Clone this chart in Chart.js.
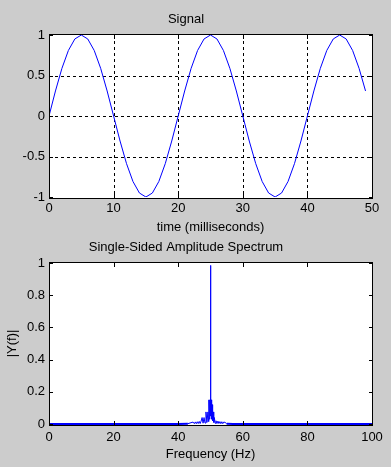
<!DOCTYPE html>
<html><head><meta charset="utf-8">
<script src="https://cdn.jsdelivr.net/npm/chart.js@4.4.0/dist/chart.umd.min.js"></script>
<style>
html,body{margin:0;padding:0;background:#cccccc;width:391px;height:467px;overflow:hidden}
#top{position:absolute;left:0;top:0;width:391px;height:236px}
#bot{position:absolute;left:0;top:236px;width:391px;height:231px}
canvas{display:block}
</style></head><body>
<div id="top"><canvas id="c1" width="391" height="236"></canvas></div>
<div id="bot"><canvas id="c2" width="391" height="231"></canvas></div>
<script>
// ---- Signal (top) ----
const signalTime = [0,1,2,3,4,5,6,7,8,9,10,11,12,13,14,15,16,17,18,19,20,21,22,23,24,25,26,27,28,29,30,31,32,33,34,35,36,37,38,39,40,41,42,43,44,45,46,47,48,49];
const signalValues = [
  0, 0.309, 0.588, 0.809, 0.951, 1, 0.951, 0.809, 0.588, 0.309,
  0, -0.309, -0.588, -0.809, -0.951, -1, -0.951, -0.809, -0.588, -0.309,
  0, 0.309, 0.588, 0.809, 0.951, 1, 0.951, 0.809, 0.588, 0.309,
  0, -0.309, -0.588, -0.809, -0.951, -1, -0.951, -0.809, -0.588, -0.309,
  0, 0.309, 0.588, 0.809, 0.951, 1, 0.951, 0.809, 0.588, 0.309
];
const signalXTicks = [0,10,20,30,40,50];
const signalXTickLabels = ['0','10','20','30','40','50'];
const signalYTicks = [-1,-0.5,0,0.5,1];
const signalYTickLabels = ['-1','-0.5','0','0.5','1'];

// ---- Spectrum (bottom) ----
const spectrumFreq = [0,5,10,15,20,25,30,35,40,43,
  44.6,45,45.3,45.6,45.9,46.2,46.5,46.8,47.1,47.4,47.7,48,48.3,48.6,48.9,49.2,49.4,49.5,49.65,49.8,49.9,
  50,
  50.1,50.2,50.35,50.5,50.65,50.8,51,51.2,51.4,51.7,52,52.3,52.6,52.9,53.2,53.5,53.8,54.1,54.5,55,
  57,60,65,70,75,80,85,90,95,100];
const spectrumAmp = [0,0,0,0,0,0,0,0,0,0.002,
  0.012,0.002,0.013,0.002,0.014,0.003,0.016,0.003,0.018,0.04,0.005,0.04,0.006,0.075,0.01,0.075,0.015,0.15,0.03,0.15,0.05,
  0.985,
  0.05,0.15,0.03,0.12,0.02,0.075,0.01,0.04,0.005,0.02,0.003,0.018,0.003,0.015,0.002,0.014,0.002,0.012,0.01,0.002,
  0,0,0,0,0,0,0,0,0,0];
const spectrumXTicks = [0,20,40,60,80,100];
const spectrumXTickLabels = ['0','20','40','60','80','100'];
const spectrumYTicks = [0,0.2,0.4,0.6,0.8,1];
const spectrumYTickLabels = ['0','0.2','0.4','0.6','0.8','1'];

const FONT = {family:"'Liberation Sans', Arial, sans-serif", size:13, weight:'normal'};

const matlabAxes = {
  id:'matlabAxes',
  beforeDraw(chart){
    const {ctx, chartArea:a} = chart;
    ctx.save();
    ctx.fillStyle = '#ffffff';
    ctx.fillRect(a.left, a.top, a.right - a.left, a.bottom - a.top + 1);
    ctx.restore();
  },
  beforeDatasetsDraw(chart, args, opts){
    if (!opts.grid) return;
    const {ctx, chartArea:a, scales} = chart;
    ctx.save();
    ctx.strokeStyle = '#000';
    ctx.lineWidth = 1;
    ctx.setLineDash([3,3]);
    scales.x.ticks.forEach(t => {
      if (t.value <= scales.x.min || t.value >= scales.x.max) return;
      const x = Math.round(scales.x.getPixelForValue(t.value)) + 0.5;
      ctx.beginPath(); ctx.moveTo(x, a.top); ctx.lineTo(x, a.bottom); ctx.stroke();
    });
    scales.y.ticks.forEach(t => {
      if (t.value <= scales.y.min || t.value >= scales.y.max) return;
      const y = Math.round(scales.y.getPixelForValue(t.value)) + 0.5;
      ctx.beginPath(); ctx.moveTo(a.left, y); ctx.lineTo(a.right, y); ctx.stroke();
    });
    ctx.restore();
  },
  afterDatasetsDraw(chart){
    const {ctx, chartArea:a, scales} = chart;
    const L = Math.round(a.left), R = Math.round(a.right), T = Math.round(a.top), B = Math.round(a.bottom);
    ctx.save();
    ctx.fillStyle = '#000';
    ctx.fillRect(L, T - 1, R - L + 1, 1);
    ctx.fillRect(L, B + 1, R - L + 1, 1);
    ctx.fillRect(L, T - 1, 1, B - T + 3);
    ctx.fillRect(R, T - 1, 1, B - T + 3);
    const len = 4;
    scales.x.ticks.forEach(t => {
      const x = Math.round(scales.x.getPixelForValue(t.value));
      ctx.fillRect(x, B + 1 - len, 1, len);
      ctx.fillRect(x, T, 1, len);
    });
    scales.y.ticks.forEach(t => {
      const y = Math.round(scales.y.getPixelForValue(t.value));
      ctx.fillRect(L, y, len, 1);
      ctx.fillRect(R - len + 1, y, len, 1);
    });
    ctx.restore();
  }
};

function xScale(min, max, ticks, labels, title, tickPad, titlePadB, height){
  return {
    type:'linear', min, max,
    afterBuildTicks: s => { s.ticks = ticks.map(v => ({value:v})); },
    afterFit: s => { s.height = height; },
    grid:{display:false, drawTicks:false}, border:{display:false},
    ticks:{color:'#000', font:FONT, padding:tickPad, maxRotation:0, autoSkip:false,
           callback:(v,i) => labels[i]},
    title:{display:true, text:title, color:'#000', font:FONT, padding:{top:0,bottom:titlePadB}}
  };
}
function yScale(min, max, ticks, labels, title){
  const s = {
    type:'linear', min, max,
    afterBuildTicks: s => { s.ticks = ticks.map(v => ({value:v})); },
    afterFit: s => { s.width = 49; },
    grid:{display:false, drawTicks:false}, border:{display:false},
    ticks:{color:'#000', font:FONT, padding:4, autoSkip:false, callback:(v,i) => labels[i]}
  };
  if (title) s.title = {display:true, text:title, color:'#000', font:FONT, padding:{top:4.2,bottom:0}};
  return s;
}

new Chart(document.getElementById('c1'), {
  type:'line',
  data:{datasets:[{
    data: signalTime.map((t,i) => ({x:t, y:signalValues[i]})),
    borderColor:'#0000ff', borderWidth:1, pointRadius:0, tension:0, fill:false
  }]},
  options:{
    responsive:false, animation:false, devicePixelRatio:1,
    layout:{padding:{left:0,right:19,top:0,bottom:0}},
    plugins:{
      legend:{display:false}, tooltip:{enabled:false},
      title:{display:true, text:'Signal', color:'#000', font:FONT, padding:{top:11.2,bottom:8.2}},
      matlabAxes:{grid:true}
    },
    scales:{
      x: xScale(0,50,signalXTicks,signalXTickLabels,'time (milliseconds)',4,1.2,39),
      y: yScale(-1,1,signalYTicks,signalYTickLabels,null)
    }
  },
  plugins:[matlabAxes]
});

new Chart(document.getElementById('c2'), {
  type:'line',
  data:{datasets:[{
    data: spectrumFreq.map((f,i) => ({x:f, y:spectrumAmp[i]})),
    borderColor:'#0000ff', borderWidth:1, pointRadius:0, tension:0, fill:false, clip:false,
    segment:{borderWidth: c => (c.p0.parsed.y < 0.005 && c.p1.parsed.y < 0.005) ? 2 : 1}
  }]},
  options:{
    responsive:false, animation:false, devicePixelRatio:1,
    layout:{padding:{left:0,right:19,top:0,bottom:0}},
    plugins:{
      legend:{display:false}, tooltip:{enabled:false},
      title:{display:true, text:'Single-Sided Amplitude Spectrum', color:'#000', font:FONT, padding:{top:3.2,bottom:8.2}},
      matlabAxes:{grid:false}
    },
    scales:{
      x: xScale(0,100,spectrumXTicks,spectrumXTickLabels,'Frequency (Hz)',5.2,5.2,43),
      y: yScale(0,1,spectrumYTicks,spectrumYTickLabels,'|Y(f)|')
    }
  },
  plugins:[matlabAxes]
});
</script>
</body></html>
